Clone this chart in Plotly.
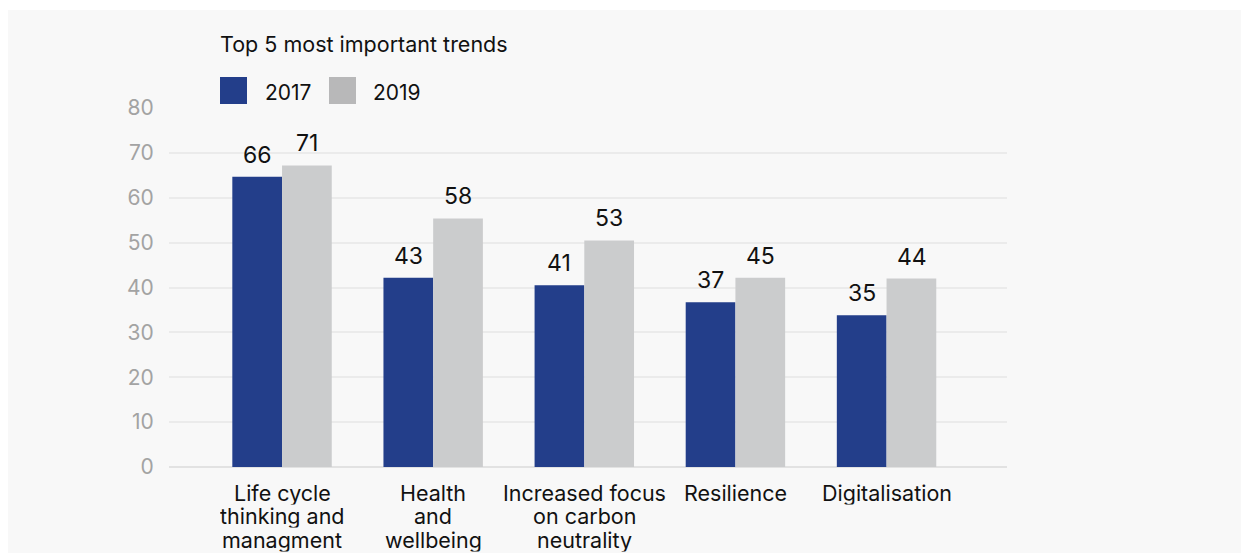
import plotly.graph_objects as go

categories = [
    "Life cycle<br>thinking and<br>managment",
    "Health<br>and<br>wellbeing",
    "Increased focus<br>on carbon<br>neutrality",
    "Resilience",
    "Digitalisation",
]
series_names = ["2017", "2019"]
# bar heights as drawn in the picture
values_2017 = [64.7, 42.2, 40.5, 36.7, 33.8]
values_2019 = [67.2, 55.4, 50.5, 42.2, 42.0]
# value labels as printed above the bars
labels_2017 = ["66", "43", "41", "37", "35"]
labels_2019 = ["71", "58", "53", "45", "44"]
y_ticks = [0, 10, 20, 30, 40, 50, 60, 70, 80]
title_text = "Top 5 most important trends"

BLUE = "#233e8a"
GREY = "#cbcccd"
LEGEND_GREY = "#b8b8b9"
TEXT = "#111111"
FONT = "Inter"

W, H = 1241, 545
ML, MR, MT, MB = 161, W - 999, 100, H - 459
PW, PH = W - ML - MR, H - MT - MB


def px(x):
    return (x - ML) / PW


def py(y):
    return 1 - (y - MT) / PH


fig = go.Figure()
fig.add_trace(go.Bar(name=series_names[0], x=categories, y=values_2017,
                     marker=dict(color=BLUE, line=dict(width=0)), showlegend=False))
fig.add_trace(go.Bar(name=series_names[1], x=categories, y=values_2019,
                     marker=dict(color=GREY, line=dict(width=0)), showlegend=False))

annotations = []
# value labels above bars
for vals, labs, shift in ((values_2017, labels_2017, -25), (values_2019, labels_2019, 25)):
    for cat, v, t in zip(categories, vals, labs):
        annotations.append(dict(x=cat, y=v, text=t, xref="x", yref="y", showarrow=False,
                                xanchor="center", yanchor="bottom", xshift=shift, yshift=6,
                                font=dict(family=FONT, size=23, color=TEXT)))

# category labels, one annotation per line (tight line spacing)
CAT_SIZE = 21.5
LINE_STEP = 23.6
first_center = 484.2
for cat in categories:
    for i, line in enumerate(cat.split("<br>")):
        annotations.append(dict(x=cat, y=py(first_center + i * LINE_STEP), xref="x", yref="paper",
                                text=line, showarrow=False, xanchor="center", yanchor="middle",
                                height=LINE_STEP - 0.2, borderpad=0,
                                font=dict(family=FONT, size=CAT_SIZE, color=TEXT)))

# title
annotations.append(dict(x=px(210), y=py(36), xref="paper", yref="paper", text=title_text,
                        showarrow=False, xanchor="left", yanchor="middle",
                        font=dict(family=FONT, size=21.5, color=TEXT)))

shapes = [
    dict(type="rect", xref="paper", yref="paper", x0=px(0), x1=px(W), y0=py(H), y1=py(2),
         fillcolor="#f8f8f8", line=dict(width=0), layer="below"),
    dict(type="rect", xref="paper", yref="paper", x0=px(212), x1=px(239),
         y0=py(96), y1=py(69), fillcolor=BLUE, line=dict(width=0)),
    dict(type="rect", xref="paper", yref="paper", x0=px(321), x1=px(348),
         y0=py(96), y1=py(69), fillcolor=LEGEND_GREY, line=dict(width=0)),
]
annotations.append(dict(x=px(255), y=py(85), xref="paper", yref="paper", text=series_names[0],
                        showarrow=False, xanchor="left", yanchor="middle",
                        font=dict(family=FONT, size=21, color=TEXT)))
annotations.append(dict(x=px(363), y=py(85), xref="paper", yref="paper", text=series_names[1],
                        showarrow=False, xanchor="left", yanchor="middle",
                        font=dict(family=FONT, size=21, color=TEXT)))

fig.update_layout(
    width=W, height=H,
    margin=dict(l=ML, r=MR, t=MT, b=MB, pad=0),
    paper_bgcolor="#ffffff",
    plot_bgcolor="rgba(0,0,0,0)",
    barmode="group", bargap=0.342, bargroupgap=0,
    shapes=shapes, annotations=annotations,
    showlegend=False,
    font=dict(family=FONT),
)
fig.update_xaxes(
    range=[-0.748, 4.797], showgrid=False, showline=False, zeroline=False, automargin=False,
    showticklabels=False, ticks="",
)
fig.update_yaxes(
    range=[0, 80], tickvals=y_ticks, showgrid=True, gridcolor="#ebebeb", gridwidth=2,
    zeroline=True, zerolinecolor="#e2e2e2", zerolinewidth=2, showline=False, automargin=False,
    ticks="outside", ticklen=10, tickcolor="rgba(0,0,0,0)",
    tickfont=dict(family=FONT, size=21, color="#a3a3a3"),
)

fig.write_html("out.html")
